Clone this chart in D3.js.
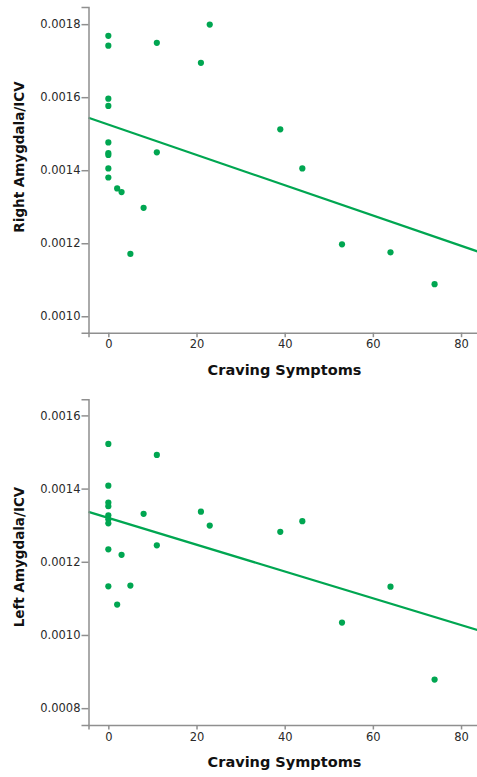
<!DOCTYPE html>
<html>
<head>
<meta charset="utf-8">
<script src="https://cdn.jsdelivr.net/npm/d3@7"></script>
<style>
  body { margin: 0; background: #fff; }
  .tick text { font-family: "DejaVu Sans", sans-serif; font-size: 11.5px; fill: #2a2a2a; }
  .axis path, .axis line { stroke: #8f8f8f; stroke-width: 1.5; }
  .title { font-family: "DejaVu Sans", sans-serif; font-weight: bold; fill: #111; }
</style>
</head>
<body>
<div id="chart"></div>
<script>
const W = 477, H = 777;

// craving symptoms (same subjects in both panels)
const craving = [0, 0, 0, 0, 0, 0, 0, 0, 0, 2, 3, 5, 8, 11, 11, 21, 23, 39, 44, 53, 64, 74];
// right amygdala / ICV
const rightVol = [0.001768, 0.001741, 0.001596, 0.001576, 0.001476, 0.001447, 0.001442, 0.001405, 0.00138,
  0.00135, 0.00134, 0.001171, 0.001297, 0.001749, 0.001449, 0.001694, 0.001799, 0.001512, 0.001405,
  0.001197, 0.001175, 0.001088];
// left amygdala / ICV
const leftVol = [0.001522, 0.001408, 0.001362, 0.001352, 0.001327, 0.001316, 0.001305, 0.001234, 0.001133,
  0.001083, 0.001219, 0.001135, 0.001331, 0.001492, 0.001245, 0.001337, 0.001299, 0.001282, 0.001311,
  0.001034, 0.001132, 0.000878];

// fit lines: [intercept, slope]
const rightFit = [0.001525, -4.15e-6];
const leftFit = [0.00132, -3.66e-6];

const xTicks = [0, 20, 40, 60, 80];
const rightTicks = [0.0010, 0.0012, 0.0014, 0.0016, 0.0018];
const leftTicks = [0.0008, 0.0010, 0.0012, 0.0014, 0.0016];

const green = "#00a651";

const svg = d3.select("#chart").append("svg")
  .attr("width", W)
  .attr("height", H);

const x = d3.scaleLinear().domain([-4.5, 84.3]).range([88.5, 480]);

function panel(vals, fit, yDomain, yRange, ticks, yTitle, titleY, xTitleY) {
  const y = d3.scaleLinear().domain(yDomain).range(yRange);
  const g = svg.append("g");

  // regression line
  const xs = x.domain();
  g.append("line")
    .attr("x1", x(xs[0])).attr("y1", y(fit[0] + fit[1] * xs[0]))
    .attr("x2", x(xs[1])).attr("y2", y(fit[0] + fit[1] * xs[1]))
    .attr("stroke", green)
    .attr("stroke-width", 2.2);

  g.selectAll("circle")
    .data(vals)
    .enter()
    .append("circle")
    .attr("cx", (d, i) => x(craving[i]))
    .attr("cy", d => y(d))
    .attr("r", 3.1)
    .attr("fill", green);

  g.append("g")
    .attr("class", "axis")
    .attr("transform", `translate(${x.range()[0]},0)`)
    .call(d3.axisLeft(y).tickValues(ticks).tickFormat(d3.format(".4f")).tickSizeOuter(0).tickSize(7).tickPadding(1));

  g.append("g")
    .attr("class", "axis")
    .attr("transform", `translate(0,${yRange[0]})`)
    .call(d3.axisBottom(x).tickValues(xTicks).tickFormat(d3.format("d")).tickSizeOuter(0).tickSize(4.5).tickPadding(3));

  g.append("text")
    .attr("class", "title")
    .attr("transform", `translate(24,${titleY}) rotate(-90)`)
    .attr("text-anchor", "middle")
    .style("font-size", "13.5px")
    .text(yTitle);

  g.append("text")
    .attr("class", "title")
    .attr("x", 284.5)
    .attr("y", xTitleY)
    .attr("text-anchor", "middle")
    .attr("dominant-baseline", "central")
    .style("font-size", "14.5px")
    .text("Craving Symptoms");
}

panel(rightVol, rightFit, [0.000955, 0.001847], [332.7, 7], rightTicks, "Right Amygdala/ICV", 157, 370);
panel(leftVol, leftFit, [0.000754, 0.001644], [725, 399.3], leftTicks, "Left Amygdala/ICV", 557, 761.5);
</script>
</body>
</html>
